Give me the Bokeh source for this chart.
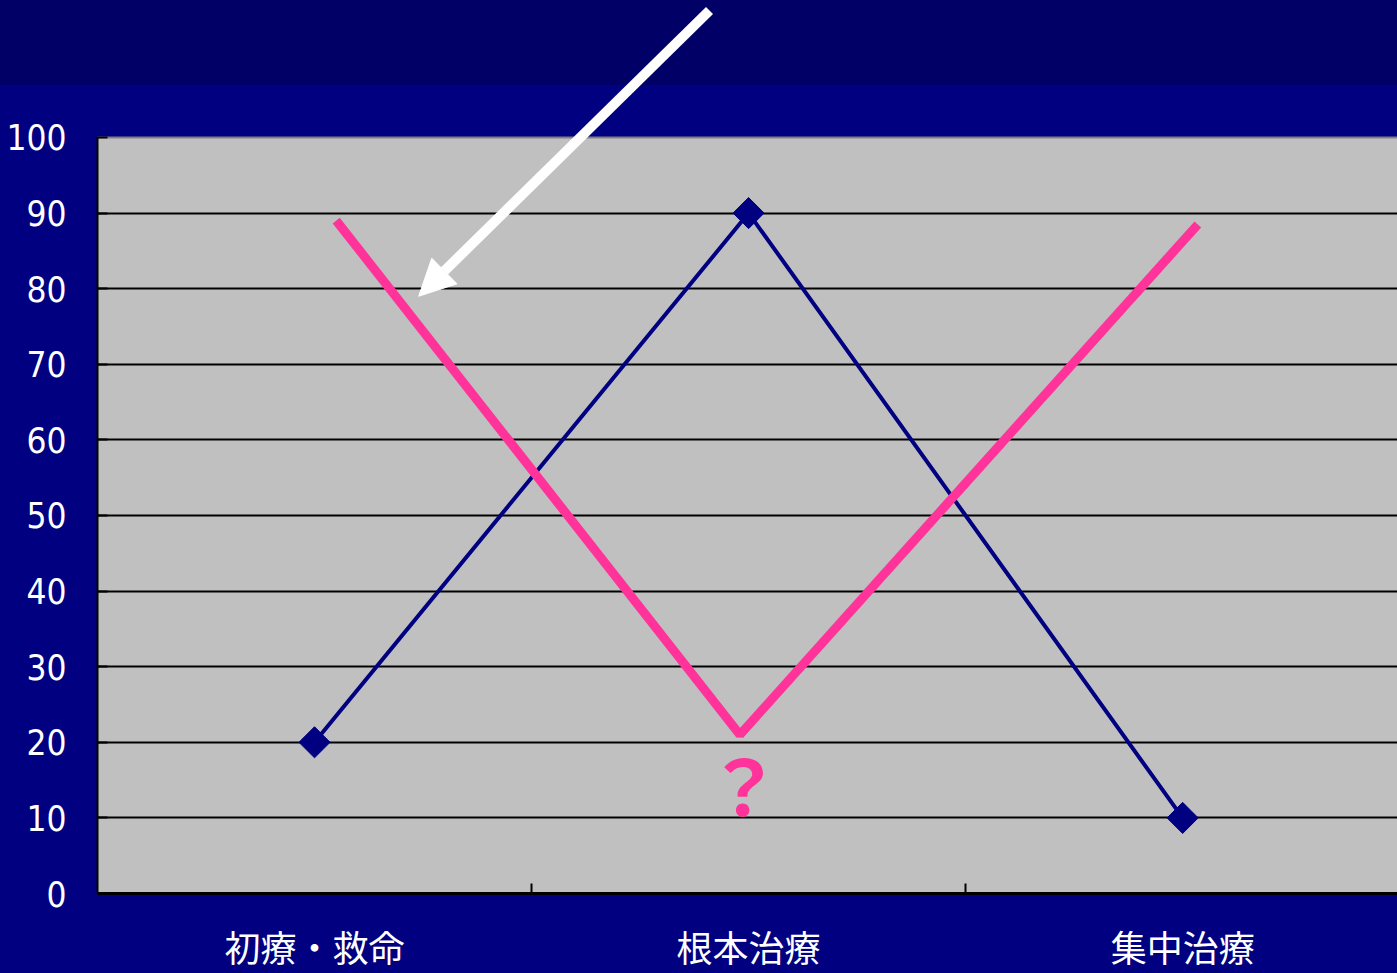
import math

from bokeh.plotting import figure
from bokeh.models import FixedTicker, Range1d, Span, Arrow, NormalHead
from bokeh.embed import file_html
from bokeh.resources import INLINE
from bokeh.core.properties import value

# --- data -----------------------------------------------------------------
categories = ["初療・救命", "根本治療", "集中治療"]
y_ticks = [0, 10, 20, 30, 40, 50, 60, 70, 80, 90, 100]

# dark blue series, one value per category
blue_values = [20, 90, 10]

# pink V-shaped line (category-axis positions and values)
pink_pos = [0.55, 1.48, 2.535]
pink_values = [89, 21, 88.5]

# question mark under the pink vertex
question_text = ["？"]
question_pos = [1.488]
question_value = [14.6]

# white pointer arrow (start and end in axis units)
arrow_start = (1.41, 116.8)
arrow_end = (0.74, 79.0)

# --- figure ---------------------------------------------------------------
cat_pos = [i + 0.5 for i in range(len(categories))]
boundaries = [i for i in range(1, len(categories))]

NAVY = "#000080"
PINK = "#FF3399"
GRAY = "#C0C0C0"
CJK = "Noto Sans CJK JP"

# the frame reaches the top of the canvas so the arrow can start in the
# title band; 0..100 occupies the lower 756 px of it
p = figure(
    frame_width=1300, frame_height=893,
    x_range=Range1d(0, 2.995), y_range=Range1d(0, 118.12),
    output_backend="svg", toolbar_location=None,
    min_border_left=97, min_border_right=0,
    min_border_top=0, min_border_bottom=80,
)
p.background_fill_color = None
p.border_fill_color = None
p.outline_line_color = None
p.styles = {
    "background": "linear-gradient(to bottom, #000066 0px, #000066 85px, #000080 85px, #000080 100%)"
}

# grey plot area, under the grid lines
p.quad(left=[0], right=[len(categories)], bottom=[0], top=[100],
       fill_color=GRAY, line_color=None, level="image")
p.add_layout(Span(location=100, dimension="width", line_color="#808080",
                  line_width=2, level="underlay"))

# x axis: labels at category centres, tick marks at category boundaries
xa = p.xaxis[0]
xa.ticker = FixedTicker(ticks=cat_pos, minor_ticks=boundaries)
xa.major_label_overrides = {pos: name for pos, name in zip(cat_pos, categories)}
xa.major_tick_in = 0
xa.major_tick_out = 0
xa.minor_tick_in = 10
xa.minor_tick_out = 0
xa.minor_tick_line_color = "black"
xa.minor_tick_line_width = 2
xa.axis_line_color = "black"
xa.axis_line_width = 3
xa.major_label_text_color = "white"
xa.major_label_text_font = CJK
xa.major_label_text_font_size = "36px"
xa.major_label_standoff = 26

# y axis, limited to 0..100
ya = p.yaxis[0]
ya.ticker = FixedTicker(ticks=y_ticks)
ya.bounds = (0, 100)
ya.major_tick_in = 10
ya.major_tick_out = 0
ya.minor_tick_line_color = None
ya.major_tick_line_color = "black"
ya.major_tick_line_width = 2
ya.axis_line_color = "black"
ya.axis_line_width = 2
ya.major_label_text_color = "white"
ya.major_label_text_font = "DejaVu Sans Condensed"
ya.major_label_text_font_size = "35px"
ya.major_label_standoff = 31

p.xgrid.visible = False
p.ygrid.ticker = FixedTicker(ticks=y_ticks[1:-1])
p.ygrid.grid_line_color = "black"
p.ygrid.grid_line_width = 2

# series
p.line(cat_pos, blue_values, line_color=NAVY, line_width=4)
p.scatter(cat_pos, blue_values, marker="square", angle=math.pi / 4,
          size=22, fill_color=NAVY, line_color=NAVY)

p.line(pink_pos, pink_values, line_color=PINK, line_width=9)

p.text(x=question_pos, y=question_value, text=question_text,
       text_color=PINK, text_font=value(CJK), text_font_size="76px",
       text_font_style="bold",
       text_align="center", text_baseline="middle")

p.add_layout(Arrow(
    x_start=arrow_start[0], y_start=arrow_start[1],
    x_end=arrow_end[0], y_end=arrow_end[1],
    line_color="white", line_width=10,
    end=NormalHead(size=36, fill_color="white", line_color="white", line_width=1),
))

open("out.html", "w").write(file_html(p, INLINE))
